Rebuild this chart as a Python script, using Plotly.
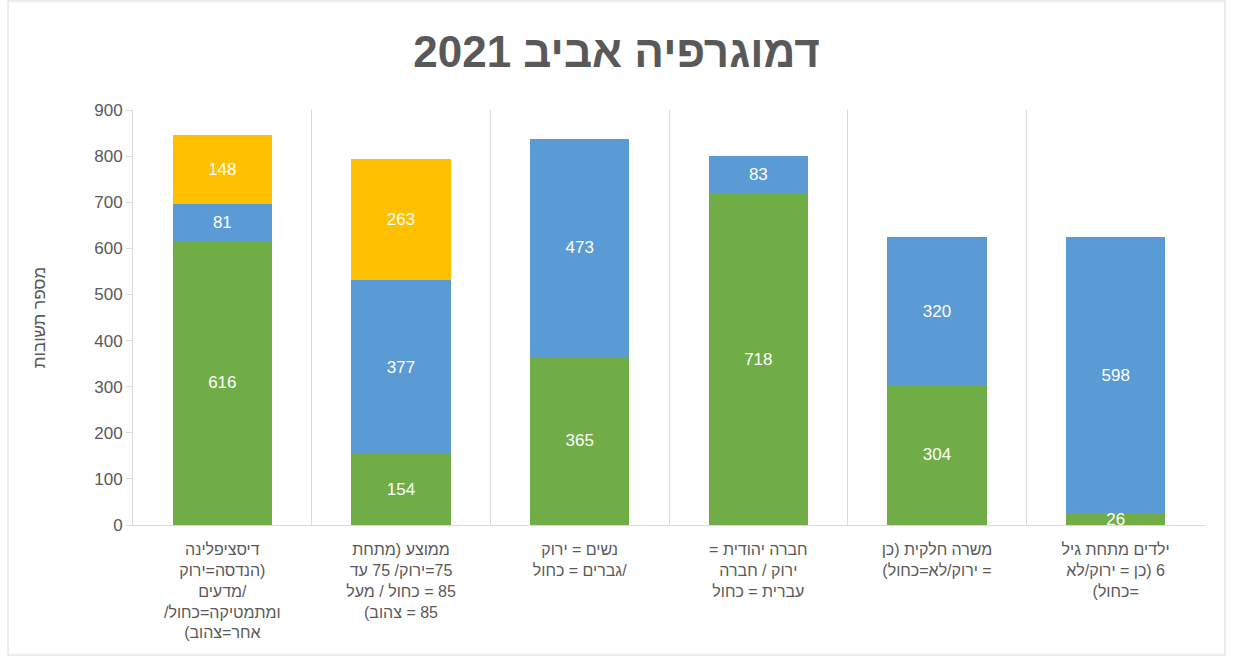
import plotly.graph_objects as go

RLE = "\u202b"
PDF = "\u202c"

def rtl(lines):
    return "<br>".join(RLE + ln + PDF for ln in lines)

category_lines = [
    ["דיסציפלינה", "(הנדסה=ירוק", "/מדעים", "ומתמטיקה=כחול/", "אחר=צהוב)"],
    ["ממוצע (מתחת", "75=ירוק/ 75 עד", "85 = כחול / מעל", "85 = צהוב)"],
    ["נשים = ירוק", "/גברים = כחול"],
    ["חברה יהודית =", "ירוק / חברה", "עברית = כחול"],
    ["משרה חלקית (כן", "= ירוק/לא=כחול)"],
    ["ילדים מתחת גיל", "6 (כן = ירוק/לא", "=כחול)"],
]
categories = [rtl(c) for c in category_lines]

green_values = [616, 154, 365, 718, 304, 26]
blue_values = [81, 377, 473, 83, 320, 598]
yellow_values = [148, 263, None, None, None, None]

title_text = "דמוגרפיה אביב 2021"
y_title = "מספר תשובות"
y_ticks = [0, 100, 200, 300, 400, 500, 600, 700, 800, 900]

GREEN = "#70AD47"
BLUE = "#5B9BD5"
YELLOW = "#FFC000"
GRAY_TEXT = "#595959"
GRID = "#D9D9D9"
FONT = "Liberation Sans, Arial, DejaVu Sans, sans-serif"

fig = go.Figure()
for vals, col in [(green_values, GREEN), (blue_values, BLUE), (yellow_values, YELLOW)]:
    fig.add_trace(go.Bar(
        x=categories, y=vals, marker=dict(color=col, line=dict(width=0)),
        texttemplate="%{y}", textposition="inside", insidetextanchor="middle",
        textangle=0,
        textfont=dict(color="white", size=17, family=FONT),
        hoverinfo="skip",
    ))

W, H = 1233, 660
L, R, T, B = 133, 28, 110, 135
pw, ph = W - L - R, H - T - B

def px_x(p):
    return (p - L) / pw

def px_y(p):
    return (H - B - p) / ph

fig.add_shape(type="rect", xref="paper", yref="paper",
              x0=px_x(8), x1=px_x(1225), y0=px_y(655), y1=px_y(1),
              line=dict(color=GRID, width=1), fillcolor="rgba(0,0,0,0)", layer="below")

fig.update_layout(
    width=W, height=H,
    margin=dict(l=L, r=R, t=T, b=B, pad=0),
    barmode="stack", bargap=0.445,
    showlegend=False,
    plot_bgcolor="white", paper_bgcolor="white",
    font=dict(family=FONT, color=GRAY_TEXT),
    uniformtext=dict(minsize=17, mode="show"),
    title=dict(text="<b>" + RLE + title_text + PDF + "</b>", x=0.5, xanchor="center",
               y=1 - 52 / H, yanchor="middle", yref="container",
               font=dict(size=44, color=GRAY_TEXT, family=FONT)),
    xaxis=dict(type="category", tickson="boundaries", showgrid=True, gridcolor=GRID,
               gridwidth=1, showline=True, linecolor=GRID, ticks="",
               ticklabelstandoff=10,
               tickfont=dict(size=16, color=GRAY_TEXT, family=FONT), tickangle=0),
    yaxis=dict(range=[0, 900], tickvals=y_ticks, showgrid=False, zeroline=False,
               showline=True, linecolor=GRID, ticks="outside", ticklen=6, tickcolor=GRID,
               tickfont=dict(size=17, color=GRAY_TEXT, family=FONT),
               title=dict(text=y_title, standoff=44, font=dict(size=17, color=GRAY_TEXT, family=FONT))),
)

fig.write_html("out.html", config={"displayModeBar": False},
               post_script="document.body.style.margin='0';document.body.style.overflow='hidden';")
